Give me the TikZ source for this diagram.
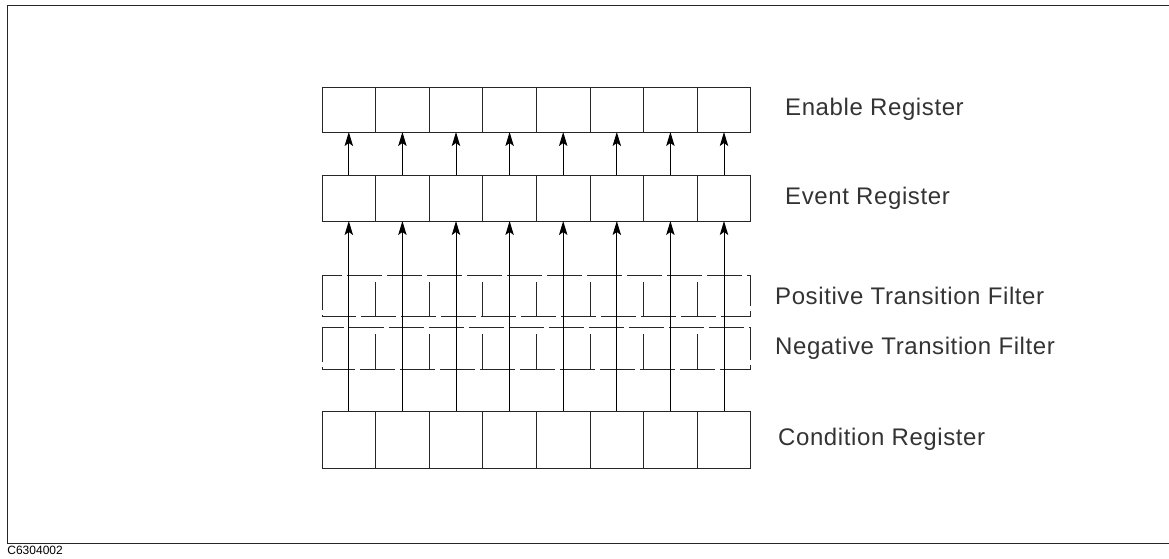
\documentclass[tikz,border=0pt]{standalone}
\usepackage{fontspec}
\setmainfont{Liberation Sans}
\newfontfamily\lblfont{Liberation Sans}[LetterSpace=2.5]
\usetikzlibrary{arrows.meta}
\usetikzlibrary{positioning}

\begin{document}
\begin{tikzpicture}[x=0.5pt,y=-0.5pt,>={Stealth[length=7pt,width=4.2pt,inset=1.5pt]},
    thin line/.style={line width=0.5pt,draw=black!85},
    reg cell/.style={rectangle,thin line,draw,inner sep=0pt,outer sep=0pt,minimum width=26.8pt},
    filt cell/.style={rectangle,inner sep=0pt,outer sep=0pt,minimum width=26.8pt},
    filt line/.style={thin line,dash pattern=on 17.5pt off 2.5pt},
    reg label/.style={font={\lblfont\fontsize{12}{14}\selectfont},text=black!80,inner sep=0pt}]
  \useasboundingbox (0,0) rectangle (1169,558);
  % frame
  \coordinate (tl) at (7,5);
  \coordinate (tr) at (1169,5);
  \coordinate (bl) at (7,543);
  \coordinate (br) at (1169,543);
  \draw[thin line] (tr) -- (tl) -- (bl) -- (br);
  \node[font=\fontsize{6}{7}\selectfont,inner sep=0pt,anchor=north west] (fig-id) at (7,546) {C6304002};

  % registers, one cell per bit
  \foreach \i in {1,...,8} {
    \node[reg cell,minimum height=22.5pt] (en-\i) at (322+53.6*\i-26.8,109.5) {};
    \node[reg cell,minimum height=23pt] (ev-\i) at (322+53.6*\i-26.8,198) {};
    \node[filt cell,minimum height=20.5pt] (pf-\i) at (322+53.6*\i-26.8,295.5) {};
    \node[filt cell,minimum height=21pt] (nf-\i) at (322+53.6*\i-26.8,348) {};
    \node[reg cell,minimum height=28.5pt] (co-\i) at (322+53.6*\i-26.8,439.5) {};
  }

  % transition filters
  \draw[filt line] (pf-1.north west) rectangle (pf-8.south east);
  \draw[filt line] (nf-1.north west) rectangle (nf-8.south east);
  \foreach \i in {1,...,7} {
    \draw[thin line] ([yshift=-3.5pt]pf-\i.north east) -- (pf-\i.south east);
    \draw[thin line] ([yshift=-3.5pt]nf-\i.north east) -- (nf-\i.south east);
  }

  % bits go up
  \foreach \i in {1,...,8} {
    \draw[->,line width=0.5pt] (ev-\i.north) -- (en-\i.south);
    \draw[->,line width=0.5pt] (co-\i.north) -- (ev-\i.south);
  }

  \node[reg label,right=17pt of en-8] (en-txt) {Enable Register};
  \node[reg label,right=17pt of ev-8] (ev-txt) {Event Register};
  \node[reg label,right=12pt of pf-8] (pf-txt) {Positive Transition Filter};
  \node[reg label,right=12pt of nf-8] (nf-txt) {Negative Transition Filter};
  \node[reg label,right=13.5pt of co-8] (co-txt) {Condition Register};
\end{tikzpicture}
\end{document}
